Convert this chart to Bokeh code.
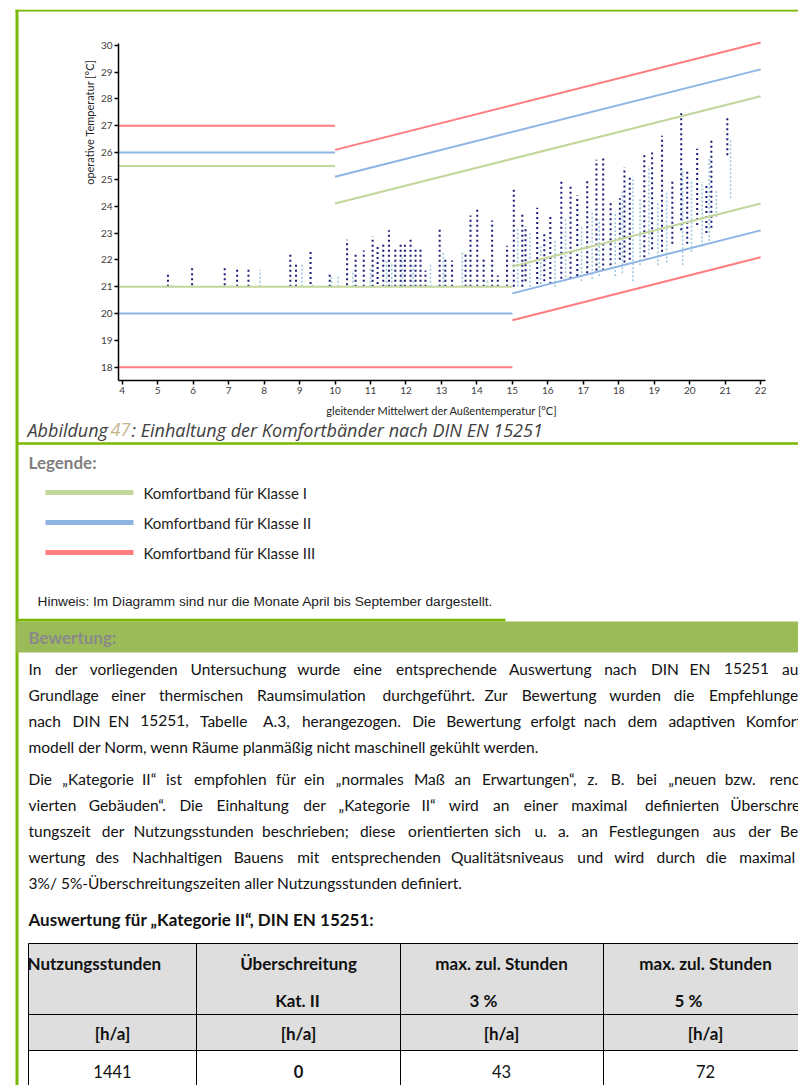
import math
from bokeh.plotting import figure
from bokeh.models import Range1d, FixedTicker
from bokeh.embed import file_html
from bokeh.resources import INLINE
from bokeh.core.properties import value

# ---------------- chart data ----------------
x_ticks = list(range(4, 23))
y_ticks = list(range(18, 31))
klassen = ["Klasse I", "Klasse II", "Klasse III"]
band_colors = ["#c3d69b", "#8eb4e3", "#ff7c80"]

upper_const_x = [3.9, 10.0]
upper_const = [25.5, 26.0, 27.0]
lower_const_x = [3.9, 15.0]
lower_const = [21.0, 20.0, 18.0]
upper_adapt_x = [10.0, 22.0]
upper_adapt_start = [24.1, 25.1, 26.1]
upper_adapt_end = [28.1, 29.1, 30.1]
lower_adapt_x = [15.0, 22.0]
lower_adapt_start = [21.75, 20.75, 19.75]
lower_adapt_end = [24.1, 23.1, 22.1]

# simulated hourly operative temperatures, grouped in columns per running mean
dark_x = [5.29, 5.97, 6.89, 7.24, 7.56, 8.74, 8.90, 9.31, 9.85, 10.34,
          10.58, 10.81, 11.06, 11.20, 11.36, 11.52, 11.70, 11.85, 11.97, 12.13,
          12.27, 12.41, 12.55, 12.95, 13.11, 13.30, 13.68, 13.82, 14.01, 14.19,
          14.43, 14.59, 14.85, 15.04, 15.28, 15.37, 15.70, 15.90, 16.07, 16.38,
          16.64, 16.83, 17.11, 17.37, 17.56, 17.77, 18.03, 18.16, 18.31, 18.72,
          18.94, 19.22, 19.51, 19.76, 19.93, 20.21, 20.47, 20.61, 21.06]
dark_lo = [21.0, 21.05, 21.05, 21.0, 21.0, 21.0, 21.0, 21.1, 21.0, 21.05,
           21.0, 21.0, 21.0, 21.1, 21.0, 21.0, 21.0, 21.0, 21.0, 21.0,
           21.0, 21.0, 21.0, 21.0, 21.0, 21.0, 21.0, 21.0, 21.0, 21.0,
           21.0, 21.0, 21.0, 21.0, 21.0, 21.2, 21.1, 21.2, 21.1, 21.3,
           21.3, 21.4, 21.5, 21.6, 21.6, 21.8, 22.0, 21.9, 22.0, 22.1,
           22.4, 22.3, 22.6, 23.1, 22.6, 23.3, 23.0, 23.2, 25.9]
dark_hi = [21.45, 21.75, 21.75, 21.70, 21.70, 22.25, 21.92, 22.40, 21.55, 22.75,
           22.20, 22.35, 22.87, 22.55, 22.65, 23.10, 22.40, 22.65, 22.60, 22.85,
           22.40, 22.40, 21.60, 23.15, 22.10, 21.98, 22.30, 23.65, 23.90, 22.05,
           23.47, 21.42, 22.53, 24.65, 23.74, 23.26, 23.94, 23.00, 23.70, 24.96,
           24.77, 24.40, 25.02, 25.73, 25.83, 24.20, 24.30, 25.45, 25.15, 26.01,
           26.00, 26.63, 24.96, 27.57, 25.30, 26.14, 24.80, 26.45, 27.38]

light_x = [5.40, 7.89, 9.07, 9.36, 9.90, 10.09, 10.50, 11.00, 11.45, 11.60,
           11.90, 12.20, 12.69, 13.05, 13.59, 14.30, 15.15, 15.50, 15.80, 16.20,
           16.50, 16.95, 17.25, 17.45, 17.90, 18.10, 18.40, 18.60, 18.85, 19.10,
           19.35, 19.80, 20.05, 20.35, 20.55, 20.75, 21.15]
light_lo = [21.0, 21.0, 21.0, 21.0, 21.0, 21.0, 21.0, 21.0, 21.0, 21.0,
            21.0, 21.0, 21.0, 21.0, 21.0, 21.0, 21.0, 21.0, 21.1, 21.0,
            21.2, 21.2, 21.3, 21.4, 21.4, 21.5, 21.2, 21.8, 22.2, 21.8,
            21.9, 21.8, 22.3, 22.5, 22.7, 23.6, 24.3]
light_hi = [21.05, 21.63, 21.90, 21.15, 21.40, 21.45, 21.60, 21.70, 22.00, 21.90,
            22.10, 21.80, 21.85, 22.30, 22.30, 21.30, 23.20, 23.00, 22.50, 22.80,
            23.60, 23.30, 23.80, 23.50, 23.80, 24.60, 25.10, 24.30, 25.50, 24.20,
            24.50, 25.30, 25.00, 24.90, 25.80, 24.60, 26.50]

x_label = "gleitender Mittelwert der Außentemperatur [°C]"
y_label = "operative Temperatur [°C]"

# ---------------- document texts ----------------
caption_parts = ["Abbildung ", "47", ": Einhaltung der Komfortbänder nach DIN EN 15251"]
legend_title = "Legende:"
legend_labels = ["Komfortband für Klasse I", "Komfortband für Klasse II", "Komfortband für Klasse III"]
hinweis = "Hinweis: Im Diagramm sind nur die Monate April bis September dargestellt."
section_title = "Bewertung:"
paragraph_lines = [
    ("In der vorliegenden Untersuchung wurde eine entsprechende Auswertung nach DIN EN 15251 au", True),
    ("Grundlage einer thermischen Raumsimulation durchgeführt. Zur Bewertung wurden die Empfehlunge", True),
    ("nach DIN EN 15251, Tabelle A.3, herangezogen. Die Bewertung erfolgt nach dem adaptiven Komfort", True),
    ("modell der Norm, wenn Räume planmäßig nicht maschinell gekühlt werden.", False),
    ("Die „Kategorie II“ ist empfohlen für ein „normales Maß an Erwartungen“, z. B. bei „neuen bzw. renc", True),
    ("vierten Gebäuden“. Die Einhaltung der „Kategorie II“ wird an einer maximal definierten Überschre", True),
    ("tungszeit der Nutzungsstunden beschrieben; diese orientierten sich u. a. an Festlegungen aus der Be", True),
    ("wertung des Nachhaltigen Bauens mit entsprechenden Qualitätsniveaus und wird durch die maximal", True),
    ("3%/ 5%-Überschreitungszeiten aller Nutzungsstunden definiert.", False),
]
table_title = "Auswertung für „Kategorie II“, DIN EN 15251:"
table_head1 = ["Nutzungsstunden", "Überschreitung", "max. zul. Stunden", "max. zul. Stunden"]
table_head2 = ["", "Kat. II", "3 %", "5 %"]
table_units = ["[h/a]", "[h/a]", "[h/a]", "[h/a]"]
table_values = ["1441", "0", "43", "72"]

GREEN = "#7ab800"
BAND = "#9bbb59"
DARK = "#1a1a78"
LIGHT = "#9ecae1"

W, H = 798, 1085
# ---------------- single page figure ----------------
# chart scales: x=4 at 121.7 px, 35.47 px per K ; y=24 at 205.7 px, 26.83 px per K
p = figure(width=W, height=H,
           x_range=Range1d(4 - 121.7 / 35.47, 4 + (W - 121.7) / 35.47),
           y_range=Range1d(24 - (H - 205.7) / 26.83, 24 + 205.7 / 26.83),
           min_border=0, output_backend="svg", toolbar_location=None)
p.outline_line_color = None
p.grid.visible = False
p.extra_x_ranges = {"px": Range1d(0, W)}
p.extra_y_ranges = {"px": Range1d(H, 0)}

p.segment(x0=light_x, y0=light_lo, x1=light_x, y1=light_hi, line_color=LIGHT, line_width=1.6,
          line_dash="2 2")
p.segment(x0=dark_x, y0=dark_lo, x1=dark_x, y1=dark_hi, line_color=DARK, line_width=2,
          line_dash="2 3")

for i in range(3):
    c = band_colors[i]
    p.line(x=upper_const_x, y=[upper_const[i], upper_const[i]], line_color=c, line_width=2)
    p.line(x=lower_const_x, y=[lower_const[i], lower_const[i]], line_color=c, line_width=2)
    p.line(x=upper_adapt_x, y=[upper_adapt_start[i], upper_adapt_end[i]], line_color=c, line_width=2)
    p.line(x=lower_adapt_x, y=[lower_adapt_start[i], lower_adapt_end[i]], line_color=c, line_width=2)

p.xaxis.ticker = FixedTicker(ticks=x_ticks)
p.yaxis.ticker = FixedTicker(ticks=y_ticks)
p.xaxis.fixed_location = 17.49
p.yaxis.fixed_location = 3.9
p.xaxis.bounds = (3.9, 22.13)
p.yaxis.bounds = (17.49, 30.07)
for ax in (p.xaxis[0], p.yaxis[0]):
    ax.axis_line_color = "black"
    ax.axis_line_width = 1.5
    ax.major_tick_line_color = "black"
    ax.major_tick_line_width = 1.5
    ax.major_tick_in = 0
    ax.major_tick_out = 4
    ax.minor_tick_line_color = None
    ax.major_label_text_font = "Lato"
    ax.major_label_text_font_size = "10px"
    ax.major_label_text_color = "#404040"
    ax.major_label_standoff = 2
p.xaxis.axis_label = x_label
p.xaxis.axis_label_text_font = "Lato"
p.xaxis.axis_label_text_font_size = "11px"
p.xaxis.axis_label_text_font_style = "normal"
p.xaxis.axis_label_text_color = "#262626"
p.xaxis.axis_label_standoff = 7

p.text(x=[3.078], y=[27.13], text=[y_label], angle=math.pi / 2, text_align="center",
       text_baseline="middle", text_font=value("Lato"), text_font_size=value("11px"),
       text_color="#262626")

# ---------------- document part (pixel ranges) ----------------
PX = dict(x_range_name="px", y_range_name="px")


def txt(x, y, s, size, color="#111111", style="normal", font="Lato", align="left"):
    p.text(x=[x], y=[y], text=[s], text_font=value(font), text_font_size=value(f"{size}px"),
           text_font_style=value(style), text_color=color, text_align=align,
           text_baseline="middle", **PX)


def box(l, r, t, b, color):
    p.quad(left=[l], right=[r], top=[t], bottom=[b], fill_color=color, line_color=None, **PX)


def char_w(c):
    if c == " ":
        return 0.23
    if c in "iljtfrI.,;:!|'’‚„“\"()[]/-":
        return 0.28
    if c in "mwMW":
        return 0.84
    if c.isupper():
        return 0.66
    if c.isdigit():
        return 0.57
    return 0.53


def word_w(w, size):
    return sum(char_w(c) for c in w) * size


# frame of the text box
box(15, W, 9.3, 11, GREEN)
box(15, 18, 9.3, H, GREEN)

# caption
txt(27, 429, caption_parts[0], 18, "#404040", "italic", "Open Sans")
txt(110, 429, caption_parts[1], 18, "#c5b58a", "italic", "Open Sans")
txt(131, 429, caption_parts[2], 18, "#404040", "italic", "Open Sans")

# separator
box(16, W, 441.7, 444.3, GREEN)

# legend
txt(28, 462, legend_title, 17, "#7f7f7f", "bold")
leg_y = [492, 522, 552]
for i in range(3):
    p.segment(x0=[45], y0=[leg_y[i]], x1=[133], y1=[leg_y[i]], line_color=band_colors[i],
              line_width=5, **PX)
    txt(143, leg_y[i], legend_labels[i], 15, "#222222")
txt(37, 601, hinweis, 13.7, "#222222", "normal", "Liberation Sans")

# section band
box(16, 505, 618.3, 621, GREEN)
box(16, W, 621, 652, BAND)
txt(28, 637, section_title, 17, "#8a8a8a", "bold")

# paragraphs
line_y = [668, 694, 720, 746, 778, 804, 830, 856, 882]
FS = 15.5
for (s, just), yy in zip(paragraph_lines, line_y):
    if not just:
        txt(28, yy, s, FS)
        continue
    words = s.split(" ")
    widths = [word_w(w, FS) for w in words]
    gap = (W - 28 - sum(widths)) / (len(words) - 1)
    xx = 28.0
    for w, ww in zip(words, widths):
        txt(xx, yy, w, FS)
        xx += ww + gap

# table
txt(28, 919, table_title, 17, "#111111", "bold")
col_x = [28, 196, 400, 603, 807]
t_top, t_mid1, t_mid2, t_bot = 943, 1014, 1050, 1094
box(28, 807, t_top, t_mid2, "#dedede")
for yy in (t_top, t_mid1, t_mid2, t_bot):
    p.segment(x0=[28], y0=[yy], x1=[807], y1=[yy], line_color="black", line_width=1, **PX)
for xx in col_x:
    p.segment(x0=[xx], y0=[t_top], x1=[xx], y1=[t_bot], line_color="black", line_width=1, **PX)
centers = [112, 298, 501, 705]
txt(27, 963, table_head1[0], 17, "#111111", "bold")
for i in range(1, 4):
    txt(centers[i], 963, table_head1[i], 17, "#111111", "bold", align="center")
txt(297, 1000, table_head2[1], 17, "#111111", "bold", align="center")
txt(483, 1000, table_head2[2], 17, "#111111", "bold", align="center")
txt(688, 1000, table_head2[3], 17, "#111111", "bold", align="center")
for i in range(4):
    txt(centers[i], 1033, table_units[i], 17, "#111111", "bold", align="center")
for i in range(4):
    txt(centers[i], 1071, table_values[i], 16.5, "#111111", "bold" if i == 1 else "normal",
        align="center")

open("out.html", "w").write(file_html(p, INLINE))
